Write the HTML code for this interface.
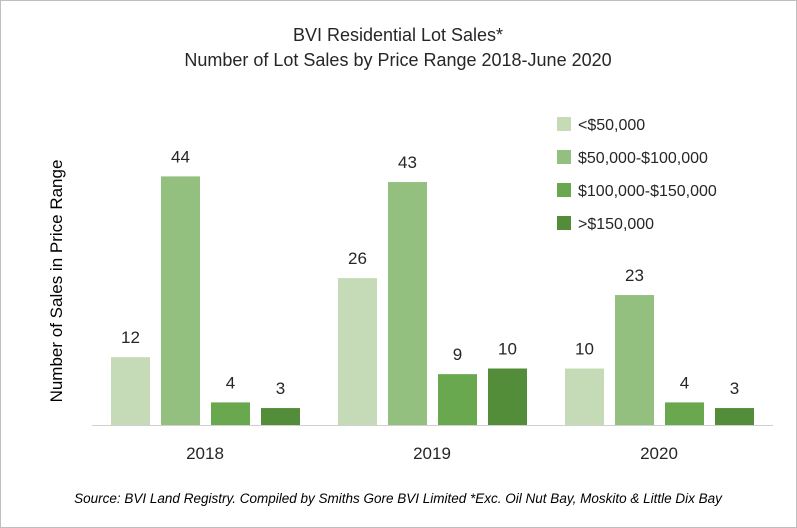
<!DOCTYPE html>
<html><head><meta charset="utf-8"><style>
body{margin:0;background:#fff}
#wrap{width:797px;height:528px;position:relative;box-sizing:border-box;border:1px solid #bfbfbf;font-family:"Liberation Sans",sans-serif}
</style></head><body>
<div id="wrap">
<svg id="c" width="795" height="526" style="position:absolute;left:0;top:0"></svg>
</div>
<script>
const categories=["2018","2019","2020"];
const seriesNames=["<$50,000","$50,000-$100,000","$100,000-$150,000",">$150,000"];
const s1=[12,26,10];
const s2=[44,43,23];
const s3=[4,9,4];
const s4=[3,10,3];
const series=[s1,s2,s3,s4];
const colors=["#c5dbb8","#93bf7f","#6aa84f","#538d3a"];
const NS="http://www.w3.org/2000/svg";
const svg=document.getElementById('c');
const base=424, scale=5.65;
const y=v=>base-v*scale;
const groupX=i=>204+i*227;
function mk(t,a,txt){const e=document.createElementNS(NS,t);for(const k in a)e.setAttribute(k,a[k]);if(txt!==undefined)e.textContent=txt;svg.appendChild(e);return e;}
let e;
e=mk('text',{x:397,y:40,'text-anchor':'middle','font-size':18,fill:'#262626'},'BVI Residential Lot Sales*');


e=mk('text',{x:397,y:65,'text-anchor':'middle','font-size':18,fill:'#262626'},'Number of Lot Sales by Price Range 2018-June 2020');


e=mk('text',{x:0,y:0,transform:'translate(61,280) rotate(-90)','text-anchor':'middle','font-size':17,fill:'#000'},'Number of Sales in Price Range');


e=mk('line',{x1:91,x2:772,y1:base+0.5,y2:base+0.5,stroke:'#d0d0d0','stroke-width':1});


categories.forEach((c,i)=>{
  const cx=groupX(i);
  series.forEach((s,j)=>{
    const x=cx-94+j*50;
    const r=mk('rect',{x:x,y:y(s[i]),width:39,height:s[i]*scale,fill:colors[j]});
    
    
    const t=mk('text',{x:x+19.5,y:y(s[i])-14,'text-anchor':'middle','font-size':17,fill:'#262626'},String(s[i]));
    
    
  });
  const l=mk('text',{x:cx,y:458,'text-anchor':'middle','font-size':17,fill:'#262626'},c);
  
  
});
seriesNames.forEach((n,j)=>{
  const ly=116+j*33;
  const r=mk('rect',{x:556,y:ly,width:14,height:14,fill:colors[j]});
  
  
  const t=mk('text',{x:577,y:ly+13,'font-size':16,fill:'#262626'},n);
  
  
});
e=mk('text',{x:397,y:502,'text-anchor':'middle','font-size':13.5,'font-style':'italic',fill:'#000'},'Source: BVI Land Registry. Compiled by Smiths Gore BVI Limited *Exc. Oil Nut Bay, Moskito & Little Dix Bay');


</script>
</body></html>
